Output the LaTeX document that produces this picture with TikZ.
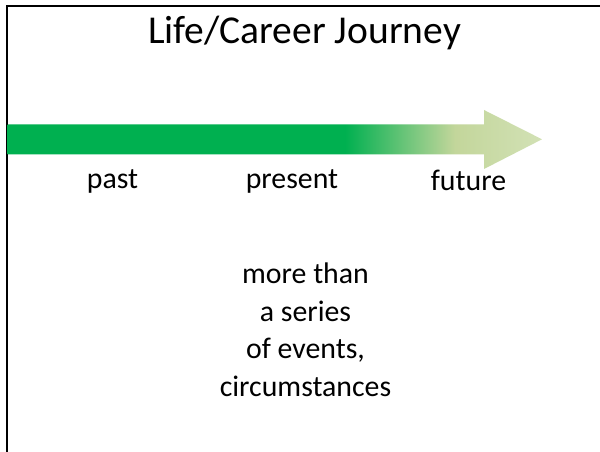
\documentclass[tikz,border=0pt]{standalone}
\usepackage{fontspec}
\setmainfont{Carlito}
\definecolor{gA}{HTML}{00B050}
\definecolor{gB}{HTML}{C3D69B}
\definecolor{gC}{HTML}{D2E1B5}
\pgfdeclarehorizontalshading{arrowshade}{100bp}{color(0bp)=(gA); color(56.57bp)=(gA); color(66.86bp)=(gB); color(75bp)=(gC); color(100bp)=(gC)}
\begin{document}
\begin{tikzpicture}[x=1pt,y=1pt,
  titletext/.style={font=\fontsize{39.5}{47}\selectfont, anchor=base, inner sep=0},
  labeltext/.style={font=\fontsize{29.8}{37.8}\selectfont, anchor=base, inner sep=0},
  frameline/.style={line width=2pt, black}]
\useasboundingbox (0,0) rectangle (600,452);
\fill[white] (0,0) rectangle (600,452);
% frame
\draw[frameline] (6.6,0) -- (6.6,446) -- (600,446);
% arrow
\shade[shading=arrowshade] (7.6,297.7) -- (484,297.7) -- (484,283) -- (542,312.7) -- (484,342) -- (484,327.7) -- (7.6,327.7) -- cycle;
% texts
\node[titletext] (title) at (304.5,408.7) {Life/Career Journey};
\node[labeltext] (past) at (112.5,263.7) {past};
\node[labeltext] (present) at (292,263.8) {present};
\node[labeltext] (future) at (468.5,261) {future};
\node[labeltext, align=center] (note) at (305.5,55.3) {more than\\a series\\of events,\\circumstances};
\end{tikzpicture}
\end{document}
